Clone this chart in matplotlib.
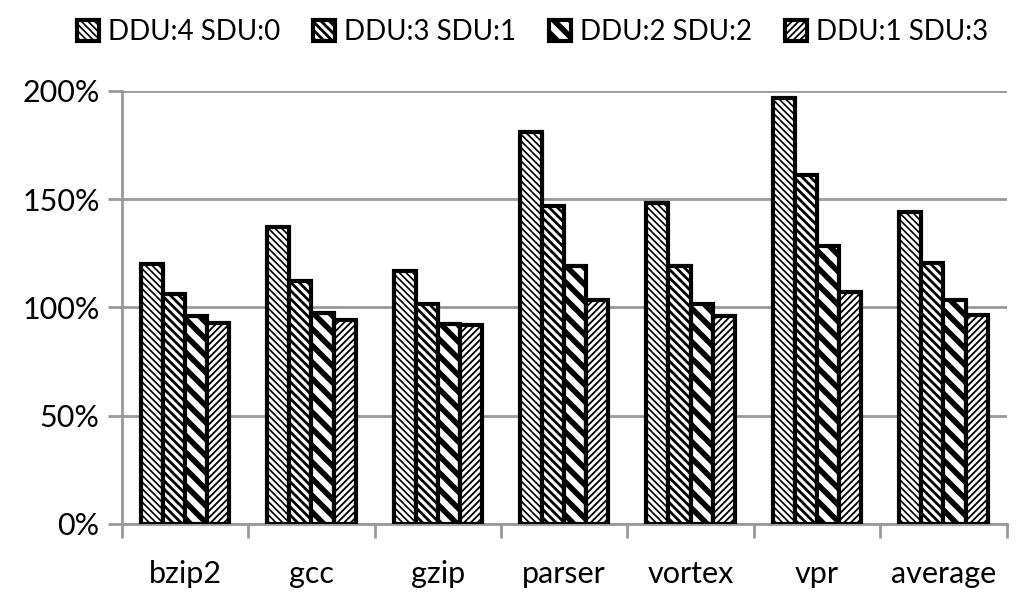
import matplotlib.pyplot as plt
import numpy as np
from matplotlib.ticker import FuncFormatter

plt.rcParams['font.family'] = ['Lato', 'DejaVu Sans']

cats = ['bzip2', 'gcc', 'gzip', 'parser', 'vortex', 'vpr', 'average']
labels = ['DDU:4 SDU:0', 'DDU:3 SDU:1', 'DDU:2 SDU:2', 'DDU:1 SDU:3']
s1 = [1.20, 1.37, 1.17, 1.81, 1.48, 1.965, 1.44]
s2 = [1.06, 1.12, 1.015, 1.47, 1.19, 1.61, 1.205]
s3 = [0.96, 0.975, 0.925, 1.19, 1.015, 1.285, 1.035]
s4 = [0.93, 0.94, 0.92, 1.035, 0.96, 1.07, 0.965]
series = [s1, s2, s3, s4]
hatches = ['\\\\\\\\\\', '\\\\\\\\', '\\\\', '/////']
hatch_lw = [1.2, 2.0, 4.0, 1.3]

fig = plt.figure(figsize=(10.24, 5.98), dpi=100)
ax = fig.add_axes([0.119, 0.124, 0.864, 0.724])

x = np.arange(len(cats))
w = 0.175
for i, vals in enumerate(series):
    with plt.rc_context({'hatch.linewidth': hatch_lw[i]}):
        bars = ax.bar(x + (i - 1.5) * w, vals, width=w, facecolor='white',
                      edgecolor='black', linewidth=3, hatch=hatches[i],
                      label=labels[i], zorder=3)
    for b in bars:
        if hasattr(b, 'set_hatch_linewidth'):
            b.set_hatch_linewidth(hatch_lw[i])

ax.set_xlim(-0.5, len(cats) - 0.5)
ax.set_ylim(0, 2.0)
ax.set_yticks(np.arange(0, 2.01, 0.5))
ax.yaxis.set_major_formatter(FuncFormatter(lambda v, p: '%d%%' % round(v * 100)))
ax.grid(axis='y', color='#999999', linewidth=2, zorder=0)
ax.set_xticks(x)
ax.set_xticklabels(cats)
ax.set_xticks(np.arange(-0.5, len(cats), 1), minor=True)
ax.tick_params(axis='x', which='major', length=0, labelsize=22, pad=26)
ax.tick_params(axis='x', which='minor', length=10, width=2, color='#999999')
ax.tick_params(axis='y', length=10, width=2, color='#999999', labelsize=22, pad=6)
for s in ['top', 'right']:
    ax.spines[s].set_visible(False)
for s in ['left', 'bottom']:
    ax.spines[s].set_color('#999999')
    ax.spines[s].set_linewidth(2)

leg = fig.legend(loc='upper center', bbox_to_anchor=(0.52, 1.01), ncol=4, frameon=False,
                 fontsize=20, handlelength=0.8, handleheight=0.8, handletextpad=0.3,
                 columnspacing=1.2)
for i, p in enumerate(leg.get_patches()):
    if hasattr(p, 'set_hatch_linewidth'):
        p.set_hatch_linewidth(hatch_lw[i])

fig.savefig('out.png', dpi=100)
